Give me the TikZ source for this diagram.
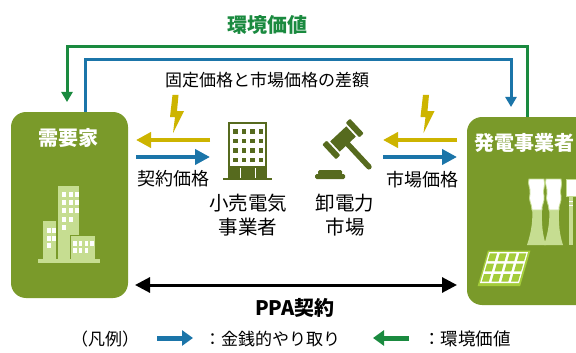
\documentclass[tikz,border=0pt]{standalone}
\usepackage{fontspec}
\setmainfont{Noto Sans CJK JP}
\usetikzlibrary{arrows.meta}

\definecolor{boxgreen}{HTML}{7A9A2A}
\definecolor{icongreen}{HTML}{C6DD91}
\definecolor{iconolive}{HTML}{566A1E}
\definecolor{panellime}{HTML}{A4CC3A}
\definecolor{moneyblue}{HTML}{1B75A9}
\definecolor{valuegreen}{HTML}{1A8A3F}
\definecolor{boltyellow}{HTML}{CDB400}

\tikzset{
  bolt/.pic={\fill[boltyellow] (0,0) -- (6,0) -- (4.5,16) -- (11.5,16) -- (0.5,38) -- (2.5,22) -- (-2.5,22) -- cycle;}
}

\begin{document}
\begin{tikzpicture}[x=1pt, y=-1pt,
    party/.style={fill=boxgreen, rounded corners=15pt, inner sep=0pt},
    partytext/.style={text=white, inner sep=0pt, font=\fontsize{20}{24}\selectfont\bfseries},
    lbl/.style={inner sep=0pt, align=center, font=\fontsize{18}{24}\selectfont},
    flow/.style={line width=4pt, -{Triangle[length=15pt, width=15pt]}},
    feed/.style={line width=3pt, -{Triangle[length=10pt, width=11pt]}, shorten >=10pt}]
    \clip (0,0) rectangle (576,353);
    \fill[white] (0,0) rectangle (576,353);

    % Parties
    \node[party, minimum width=117pt, minimum height=186pt] (dem) at (69.5,205) {};
    \node[partytext] (demlbl) at (68,138) {需要家};
    \node[party, minimum width=140pt, minimum height=188pt] (gen) at (537,211) {};
    \node[partytext, anchor=west] (genlbl) at (474,143) {発電事業者};

    % Buildings (demand side)
    \fill[icongreen] (58,186) rectangle (79,261);
    \fill[icongreen] (43,221) rectangle (56,261);
    \fill[icongreen, draw=boxgreen, line width=1pt] (70,235) rectangle (95,261);
    \fill[icongreen] (38,259) rectangle (100,263);
    \foreach \y/\n in {192/3, 200/3, 208/3, 217/2, 225/1}
        \foreach \x in {1,...,\n}
            \fill[white] ({55.5+6.5*\x},\y) rectangle +(4,5);
    \foreach \y/\n in {228/2, 236/2, 243/1}
        \foreach \x in {1,...,\n}
            \fill[white] ({42+5*\x},\y) rectangle +(3.5,4.5);
    \foreach \y/\n in {241/4, 248/3}
        \foreach \x in {1,...,\n}
            \fill[white] ({67.5+5.7*\x},\y) rectangle +(3.5,4.5);

    % Cooling towers and chimney (generator side)
    \foreach \dx in {0,17} {
        \fill[icongreen] ({527+\dx},245) .. controls ({532+\dx},230) and ({533+\dx},218) .. ({532+\dx},208)
            -- ({542+\dx},208) .. controls ({542+\dx},218) and ({541+\dx},230) .. ({546+\dx},245) -- cycle;
        \fill[white, draw=icongreen, line width=0.8pt] ({529+\dx},179) -- ({544+\dx},179)
            .. controls ({546+\dx},186) and ({542+\dx},190) .. ({544+\dx},196)
            .. controls ({545+\dx},202) and ({541+\dx},206) .. ({542+\dx},210) -- ({532+\dx},210)
            .. controls ({532+\dx},204) and ({528+\dx},200) .. ({530+\dx},194)
            .. controls ({531+\dx},188) and ({527+\dx},184) .. ({529+\dx},179) -- cycle;
    }
    \fill[icongreen] (569,196) rectangle (573,245);
    \fill[white, draw=icongreen, line width=0.8pt] (566,179) rectangle (577,196);
    \draw[white, line width=1pt] (569,201) -- (573,201) (569,205) -- (573,205);

    % Solar panel
    \begin{scope}[shift={(489,252)}, xslant=0.29]
        \fill[panellime] (-1.5,-1.5) rectangle (41,34);
        \fill[white] (0,0) rectangle (39,31);
        \foreach \u in {0,...,3}
            \foreach \v in {0,...,2}
                \fill[panellime] ({\u*9.75+1.4},{\v*10.33+1.4}) rectangle +(7,7.6);
    \end{scope}

    % Retail supplier
    \draw[iconolive, line width=2.5pt] (229,123) rectangle (266,178);
    \foreach \y in {129,138.5,148,157.5}
        \foreach \x in {233,241.5,250,258.5}
            \fill[iconolive] (\x,\y) rectangle +(4.5,4.5);
    \fill[iconolive] (229,166) rectangle (266,178);
    \fill[white] (239.5,168) rectangle +(1.5,10);
    \fill[white] (254.5,168) rectangle +(1.5,10);
    \draw[iconolive, line width=2.5pt] (223,179) -- (272,179);
    \node[lbl, font=\fontsize{19.5}{24}\selectfont] (retail) at (248,215) {小売電気\\事業者};

    % Wholesale market
    \begin{scope}[shift={(343,139)}, rotate=43]
        \fill[iconolive] (-11,-7) rectangle (11,7);
        \fill[iconolive, rounded corners=1pt] (-19,-10) rectangle (-13,10);
        \fill[iconolive, rounded corners=1pt] (13,-10) rectangle (19,10);
        \draw[iconolive, line width=5.5pt, line cap=round] (0,7) -- (0,38);
    \end{scope}
    \fill[iconolive, rounded corners=1.5pt] (318,170) rectangle (342,175);
    \fill[iconolive, rounded corners=1.5pt] (315,174) rectangle (345,179);
    \node[lbl, font=\fontsize{19.5}{24}\selectfont] (market) at (345,215) {卸電力\\市場};

    % Flows between parties
    \coordinate (yl1) at (210,140);
    \coordinate (yl2) at (136,140);
    \coordinate (bl1) at (136,157);
    \coordinate (bl2) at (210,157);
    \coordinate (yr1) at (457,140);
    \coordinate (yr2) at (383,140);
    \coordinate (br1) at (383,157);
    \coordinate (br2) at (457,157);
    \draw[flow, boltyellow] (yl1) -- (yl2);
    \draw[flow, moneyblue] (bl1) -- (bl2);
    \draw[flow, boltyellow] (yr1) -- (yr2);
    \draw[flow, moneyblue] (br1) -- (br2);
    \pic at (172.5,95) {bolt};
    \pic at (423,95) {bolt};
    \node[lbl] (pricel) at (173,179) {契約価格};
    \node[lbl] (pricer) at (422,180) {市場価格};

    % Outer loops
    \coordinate (gtop) at (527,117);
    \coordinate (gcorner) at (67,47);
    \coordinate (dend) at (67,112);
    \coordinate (dtop) at (85,112);
    \coordinate (bcorner) at (511,60);
    \coordinate (gend) at (511,117);
    \draw[feed, valuegreen] (gtop) |- (gcorner) -- (dend);
    \draw[feed, moneyblue] (dtop) |- (bcorner) -- (gend);
    \node[lbl, text=valuegreen, font=\fontsize{20}{24}\selectfont\bfseries] (envlbl) at (267,25) {環境価値};
    \node[lbl, font=\fontsize{17}{24}\selectfont] (difflbl) at (267,80) {固定価格と市場価格の差額};

    % PPA contract
    \coordinate (ppa1) at (135,285);
    \coordinate (ppa2) at (457,285);
    \draw[line width=3pt, {Triangle[length=15pt, width=15pt]}-{Triangle[length=15pt, width=15pt]}] (ppa1) -- (ppa2);
    \node[lbl, font=\fontsize{20}{24}\selectfont\bfseries] (ppalbl) at (295,308) {PPA契約};

    % Legend
    \node[lbl, font=\fontsize{17}{24}\selectfont] (leg) at (105,339) {（凡例）};
    \coordinate (lm1) at (157,338);
    \coordinate (lm2) at (193,338);
    \coordinate (lv1) at (409,338);
    \coordinate (lv2) at (373,338);
    \draw[line width=5pt, moneyblue, -{Triangle[length=11pt, width=15pt]}] (lm1) -- (lm2);
    \draw[line width=5pt, valuegreen, -{Triangle[length=11pt, width=15pt]}] (lv1) -- (lv2);
    \node[lbl, font=\fontsize{17}{24}\selectfont] (legm) at (272,339) {：金銭的やり取り};
    \node[lbl, font=\fontsize{17.5}{24}\selectfont] (legv) at (467,339) {：環境価値};
\end{tikzpicture}
\end{document}
